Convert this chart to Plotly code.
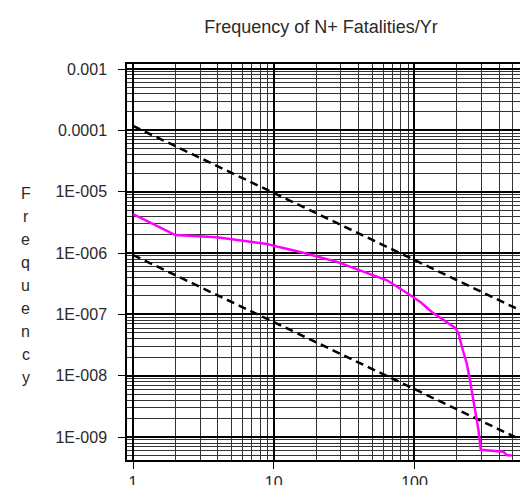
import plotly.graph_objects as go

# ---- data ----
curve_n = [1, 2, 3.95, 6.05, 8.96, 11.1, 16.2, 28.2, 41, 63.8, 93, 110, 123, 136,
           194, 206, 217, 235, 248, 270, 285, 296, 428, 453, 490]
curve_f = [4.33e-6, 1.97e-6, 1.81e-6, 1.59e-6, 1.41e-6, 1.24e-6, 1.01e-6, 7.2e-7,
           5.3e-7, 3.6e-7, 2.07e-7, 1.6e-7, 1.27e-7, 1.05e-7, 6.1e-8, 4.9e-8,
           3.0e-8, 1.6e-8, 8.5e-9, 2.77e-9, 1.3e-9, 6.2e-10, 5.8e-10, 5.1e-10, 5.0e-10]

upper_n = [1, 550]
upper_f = [1.18e-4, 1.2e-7]
lower_n = [1, 550]
lower_f = [9.3e-7, 9.4e-10]

x_ticks = [1, 10, 100]
x_ticktext = ["1", "10", "100"]
y_ticks = [1e-3, 1e-4, 1e-5, 1e-6, 1e-7, 1e-8, 1e-9]
y_ticktext = ["0.001", "0.0001", "1E-005", "1E-006", "1E-007", "1E-008", "1E-009"]

title_text = "Frequency of N+ Fatalities/Yr"
ytitle_text = "Frequency"

# minor grid values
x_minor = [m * 10 ** e for e in range(0, 3) for m in range(2, 10)]
y_minor = [m * 10.0 ** e for e in range(-10, -2) for m in range(2, 10)]

FONT = "Liberation Sans, Arial, sans-serif"
TXT = "#2a2a2a"

fig = go.Figure()
fig.add_trace(go.Scatter(x=upper_n, y=upper_f, mode="lines",
                         line=dict(color="black", width=2.5, dash="8px,5px"),
                         showlegend=False, hoverinfo="skip"))
fig.add_trace(go.Scatter(x=lower_n, y=lower_f, mode="lines",
                         line=dict(color="black", width=2.5, dash="8px,5px"),
                         showlegend=False, hoverinfo="skip"))
fig.add_trace(go.Scatter(x=curve_n, y=curve_f, mode="lines",
                         line=dict(color="#FF00FF", width=2.5),
                         showlegend=False))

fig.update_xaxes(type="log", range=[-0.043, 2.75], automargin=False,
                 tickmode="array", tickvals=x_ticks, ticktext=x_ticktext,
                 ticks="outside", ticklen=7, tickcolor="black", tickwidth=1,
                 showgrid=True, gridcolor="#000000", gridwidth=1.6,
                 minor=dict(tickmode="array", tickvals=x_minor, showgrid=True,
                            gridcolor="#333333", gridwidth=1.2, ticks=""),
                 showline=True, linecolor="black", linewidth=1.5, mirror=True,
                 tickfont=dict(family=FONT, size=16, color=TXT),
                 zeroline=False)
fig.update_yaxes(type="log", range=[-9.373, -2.918], automargin=False,
                 tickmode="array", tickvals=y_ticks, ticktext=y_ticktext,
                 ticks="outside", ticklen=7, tickcolor="black", tickwidth=1,
                 ticklabelstandoff=8,
                 showgrid=True, gridcolor="#000000", gridwidth=1.6,
                 minor=dict(tickmode="array", tickvals=y_minor, showgrid=True,
                            gridcolor="#333333", gridwidth=1.2, ticks=""),
                 showline=True, linecolor="black", linewidth=1.5, mirror=False,
                 tickfont=dict(family=FONT, size=16, color=TXT),
                 zeroline=False)

# vertical stacked y-axis title
annotations = []
top_px, step_px = 193, 23.1
plot_left, plot_w = 127, 393
plot_top, plot_h = 64, 396
for i, ch in enumerate(ytitle_text):
    py = top_px + i * step_px
    annotations.append(dict(text=ch, xref="paper", yref="paper",
                            x=(26 - plot_left) / plot_w,
                            y=(plot_top + plot_h - py) / plot_h,
                            xanchor="center", yanchor="middle", showarrow=False,
                            font=dict(family=FONT, size=16, color=TXT)))

fig.update_layout(
    width=525, height=485,
    margin=dict(l=127, r=5, t=64, b=25, autoexpand=False),
    paper_bgcolor="white", plot_bgcolor="white",
    title=dict(text=title_text, x=(321 - plot_left) / plot_w, xref="paper",
               y=1 - 27 / 485, yref="container", xanchor="center",
               yanchor="middle",
               font=dict(family=FONT, size=18, color=TXT)),
    annotations=annotations,
)

fig.write_html("out.html", config={"displayModeBar": False},
               post_script="document.body.style.margin='0';document.body.style.overflow='hidden';")
